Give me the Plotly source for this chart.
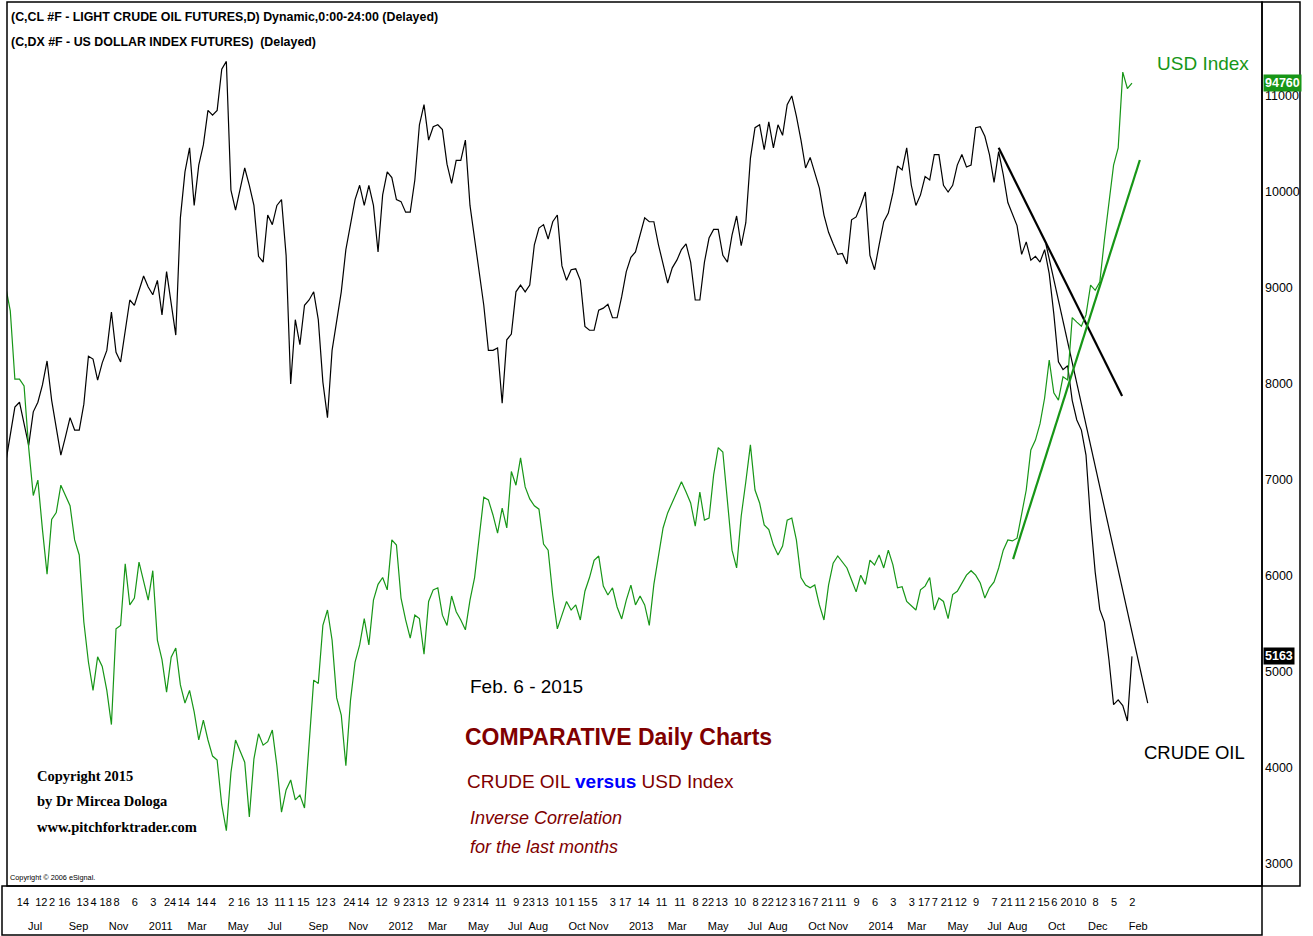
import pandas as pd
import plotly.graph_objects as go

# ---------------- data (weekly closes) ----------------
week_first = "2010-05-28"
week_last = "2015-02-06"

crude = [  # light crude oil futures, $/bbl
    71.8, 74.8, 77.6, 78.1, 75.7, 73.6, 77.1, 78.1, 79.9, 82.4,
    78.3, 75.2, 72.6, 74.5, 76.5, 75.2, 75.2, 77.9, 82.9, 82.6,
    80.4, 82.2, 83.5, 87.5, 83.3, 82.3, 85.8, 88.75, 88.2, 89.8,
    91.25, 90.1, 89.3, 90.8, 87.2, 91.7, 88.2, 85.1, 97.3, 102.1,
    104.6, 98.6, 102.8, 104.9, 108.5, 108.0, 108.5, 112.8, 113.6, 100.2,
    98.1, 100.2, 102.5, 100.7, 98.6, 93.3, 92.7, 97.6, 96.6, 98.6,
    99.2, 93.4, 80.0, 86.7, 84.1, 88.2, 88.75, 89.6, 86.7, 80.2,
    76.5, 83.5, 86.5, 89.6, 94.0, 96.5, 99.2, 100.7, 98.6, 100.7,
    98.6, 93.75, 99.7, 102.1, 101.5, 99.2, 99.0, 97.9, 97.9, 101.25,
    107.0, 109.1, 105.4, 106.8, 107.0, 106.5, 102.9, 100.9, 103.3, 103.3,
    105.4, 98.6, 95.0, 91.9, 88.2, 83.5, 83.5, 83.75, 78.0, 84.6,
    85.2, 89.6, 90.3, 89.6, 90.3, 94.5, 96.25, 96.6, 95.1, 96.9,
    97.6, 92.3, 90.8, 91.9, 92.0, 90.8, 86.0, 85.6, 85.6, 87.7,
    87.9, 88.3, 86.9, 86.9, 89.1, 91.7, 93.2, 93.75, 95.6, 97.3,
    96.9, 96.9, 94.5, 92.5, 90.5, 92.1, 92.9, 94.0, 94.6, 92.7,
    88.75, 88.75, 92.7, 95.2, 96.1, 96.1, 93.4, 92.7, 95.5, 97.5,
    94.4, 96.8, 103.5, 106.7, 107.0, 104.4, 107.3, 104.6, 107.0, 105.9,
    109.1, 110.0, 107.9, 105.4, 102.5, 103.6, 102.1, 100.4, 97.6, 95.8,
    94.6, 93.5, 93.6, 92.5, 97.1, 97.4, 98.6, 100.0, 93.4, 91.9,
    94.5, 96.9, 97.8, 99.9, 102.7, 102.3, 104.6, 100.7, 98.6, 99.7,
    101.6, 101.25, 103.9, 103.9, 100.7, 100.0, 100.7, 102.8, 103.9, 102.6,
    102.8, 106.7, 106.8, 105.8, 103.9, 101.0, 104.2, 101.8, 98.9, 97.6,
    96.5, 93.5, 94.8, 92.9, 93.3, 92.7, 94.0, 91.5, 87.3, 82.3,
    81.5, 81.9, 78.3, 76.25, 75.2, 72.6, 65.8, 60.4, 56.5, 55.2,
    51.25, 46.6, 47.1, 46.5, 44.9, 51.63,
]

usd = [  # US dollar index futures
    88.8, 88.1, 86.1, 86.1, 85.9, 84.1, 82.7, 83.15, 81.7, 80.4,
    82.0, 82.2, 83.0, 82.7, 82.4, 81.4, 80.96, 79.0, 77.83, 77.0,
    77.98, 77.7, 77.0, 76.0, 78.8, 78.9, 80.7, 79.5, 79.7, 80.75,
    80.23, 79.64, 80.5, 78.47, 77.9, 76.95, 77.97, 78.24, 77.16, 76.63,
    77.0, 76.37, 75.55, 76.13, 75.55, 75.08, 74.96, 73.65, 72.9, 74.6,
    75.55, 75.2, 74.9, 73.3, 75.0, 75.73, 75.4, 75.5, 75.84, 74.79,
    73.44, 74.09, 74.38, 73.8, 73.94, 73.56, 75.4, 77.3, 77.2, 78.9,
    79.35, 78.47, 76.78, 76.28, 74.8, 76.7, 77.83, 78.33, 79.1, 78.33,
    79.64, 80.1, 80.3, 79.94, 81.4, 81.25, 79.7, 79.06, 78.53, 79.2,
    79.1, 78.06, 79.6, 79.94, 80.0, 79.2, 78.9, 79.76, 79.3, 79.06,
    78.77, 79.64, 80.3, 81.4, 82.65, 82.57, 82.13, 81.6, 82.33, 81.75,
    83.4, 83.0, 83.8, 82.95, 82.6, 82.4, 82.3, 81.28, 81.1, 79.79,
    78.8, 79.2, 79.6, 79.35, 79.5, 79.06, 79.9, 80.3, 80.8, 80.93,
    80.05, 79.79, 80.0, 79.44, 79.09, 79.64, 80.08, 79.5, 79.76, 79.5,
    78.9, 80.1, 80.96, 81.75, 82.19, 82.5, 82.8, 83.1, 82.8, 82.48,
    81.8, 82.8, 81.98, 82.04, 83.3, 84.1, 83.97, 82.5, 81.1, 80.58,
    82.1, 83.1, 84.18, 82.86, 82.48, 81.84, 81.7, 81.25, 80.96, 81.22,
    81.98, 82.04, 81.4, 80.3, 80.08, 80.0, 80.08, 79.5, 79.06, 80.08,
    80.72, 80.93, 80.75, 80.58, 80.23, 79.88, 80.37, 80.1, 80.81, 80.67,
    80.96, 80.58, 81.1, 80.67, 80.0, 80.03, 79.6, 79.47, 79.35, 79.94,
    80.05, 80.3, 79.35, 79.7, 79.6, 79.1, 79.8, 79.9, 80.14, 80.37,
    80.5, 80.37, 80.14, 79.7, 80.0, 80.17, 80.58, 81.1, 81.4, 81.37,
    81.45, 82.13, 82.86, 84.03, 84.32, 84.8, 85.55, 86.66, 85.7, 85.49,
    86.17, 86.08, 87.9, 87.77, 87.65, 87.98, 88.85, 88.7, 88.94, 90.17,
    91.2, 92.36, 92.86, 95.08, 94.6, 94.76,
]

# hand-drawn trend lines (date, value)
crude_trend1_dates = ["2014-07-18", "2015-01-22"]
crude_trend1_vals = [104.6, 78.75]
crude_trend2_dates = ["2014-09-28", "2015-03-02"]
crude_trend2_vals = [94.58, 46.77]
usd_trend_dates = ["2014-08-09", "2015-02-18"]
usd_trend_vals = [80.84, 92.51]

crude_ticks = [3000, 4000, 5000, 6000, 7000, 8000, 9000, 10000, 11000]

day_tick_dates = [
    "2010-06-14", "2010-07-12", "2010-08-02", "2010-08-16", "2010-09-13", "2010-10-04",
    "2010-10-18", "2010-11-08", "2010-12-06", "2011-01-03", "2011-01-24", "2011-02-14",
    "2011-03-14", "2011-04-04", "2011-05-02", "2011-05-16", "2011-06-13", "2011-07-11",
    "2011-08-01", "2011-08-15", "2011-09-12", "2011-10-03", "2011-10-24", "2011-11-14",
    "2011-12-12", "2012-01-09", "2012-01-23", "2012-02-13", "2012-03-12", "2012-04-09",
    "2012-04-23", "2012-05-14", "2012-06-11", "2012-07-09", "2012-07-23", "2012-08-13",
    "2012-09-10", "2012-10-01", "2012-10-15", "2012-11-05", "2012-12-03", "2012-12-17",
    "2013-01-14", "2013-02-11", "2013-03-11", "2013-04-08", "2013-04-22", "2013-05-13",
    "2013-06-10", "2013-07-08", "2013-07-22", "2013-08-12", "2013-09-03", "2013-09-16",
    "2013-10-07", "2013-10-21", "2013-11-11", "2013-12-09", "2014-01-06", "2014-02-03",
    "2014-03-03", "2014-03-17", "2014-04-07", "2014-04-21", "2014-05-12", "2014-06-09",
    "2014-07-07", "2014-07-21", "2014-08-11", "2014-09-02", "2014-09-15", "2014-10-06",
    "2014-10-20", "2014-11-10", "2014-12-08", "2015-01-05", "2015-02-02",
]
month_tick_dates = [
    "2010-07-01", "2010-09-01", "2010-11-01", "2011-01-01", "2011-03-01", "2011-05-01",
    "2011-07-01", "2011-09-01", "2011-11-01", "2012-01-01", "2012-03-01", "2012-05-01",
    "2012-07-01", "2012-08-01", "2012-10-01", "2012-11-01", "2013-01-01", "2013-03-01",
    "2013-05-01", "2013-07-01", "2013-08-01", "2013-10-01", "2013-11-01", "2014-01-01",
    "2014-03-01", "2014-05-01", "2014-07-01", "2014-08-01", "2014-10-01", "2014-12-01",
    "2015-02-01",
]
x_view = ["2010-05-30", "2015-08-23"]
crude_view = [27.71, 119.79]
usd_view = [71.28, 97.13]

# ---------------- figure ----------------
dates = pd.date_range(week_first, week_last, freq="7D")
n = min(len(dates), len(crude), len(usd))
dates = dates[:n]

SANS = "Liberation Sans, Arial, sans-serif"
SERIF = "Liberation Serif, Times New Roman, serif"
GREEN = "#179617"
DARKRED = "#800000"

day_text = [str(pd.Timestamp(d).day) for d in day_tick_dates]
month_text = [str(pd.Timestamp(d).year) if pd.Timestamp(d).month == 1
              else pd.Timestamp(d).strftime("%b") for d in month_tick_dates]

fig = go.Figure()
fig.add_trace(go.Scatter(x=dates, y=[v * 100 for v in crude[:n]], mode="lines",
                         line=dict(color="#000000", width=1.2), xaxis="x", yaxis="y"))
fig.add_trace(go.Scatter(x=dates, y=usd[:n], mode="lines",
                         line=dict(color=GREEN, width=1.2), xaxis="x2", yaxis="y2"))
fig.add_trace(go.Scatter(x=crude_trend1_dates, y=[v * 100 for v in crude_trend1_vals],
                         mode="lines", line=dict(color="#000000", width=2.2),
                         xaxis="x", yaxis="y"))
fig.add_trace(go.Scatter(x=crude_trend2_dates, y=[v * 100 for v in crude_trend2_vals],
                         mode="lines", line=dict(color="#000000", width=1.2),
                         xaxis="x", yaxis="y"))
fig.add_trace(go.Scatter(x=usd_trend_dates, y=usd_trend_vals, mode="lines",
                         line=dict(color=GREEN, width=2.2), xaxis="x2", yaxis="y2"))

W, H = 1313, 936
L, R, T, B = 7, 51, 2, 50
pw, ph = W - L - R, H - T - B


def px(x):
    return (x - L) / pw


def py(y):
    return (H - B - y) / ph


axis_font = dict(family=SANS, size=11, color="#000000")

fig.update_layout(
    template="none",
    width=W, height=H,
    margin=dict(l=L, r=R, t=T, b=B, pad=0),
    paper_bgcolor="white", plot_bgcolor="white",
    showlegend=False, hovermode=False,
    xaxis=dict(type="date", range=x_view, tickmode="array", tickvals=day_tick_dates,
               ticktext=day_text, tickangle=0, ticks="", showgrid=False, zeroline=False,
               showline=False, ticklabelposition="outside right", ticklabelstandoff=8,
               tickfont=axis_font, automargin=False, anchor="y"),
    xaxis2=dict(type="date", range=x_view, overlaying="x", anchor="y", side="bottom",
                tickmode="array", tickvals=month_tick_dates, ticktext=month_text,
                tickangle=0, ticks="", showgrid=False, zeroline=False, showline=False,
                ticklabelposition="outside right", ticklabelstandoff=32,
                tickfont=axis_font, automargin=False),
    yaxis=dict(range=[v * 100 for v in crude_view], side="right", tickmode="array",
               tickvals=crude_ticks, ticktext=[str(t) for t in crude_ticks], ticks="",
               showgrid=False, zeroline=False, showline=False, ticklabelstandoff=2,
               tickfont=dict(family=SANS, size=12.5, color="#000000"),
               automargin=False, anchor="x"),
    yaxis2=dict(range=usd_view, overlaying="y", side="right", showticklabels=False,
                showgrid=False, zeroline=False, showline=False, ticks="",
                automargin=False, anchor="x2"),
)

frame = dict(color="#000000", width=1.5)
shapes = [
    dict(type="rect", xref="paper", yref="paper", x0=0, x1=1, y0=0, y1=1, line=frame),
    dict(type="rect", xref="paper", yref="paper", x0=1, x1=px(1300), y0=0, y1=1, line=frame),
    dict(type="rect", xref="paper", yref="paper", x0=px(2), x1=1, y0=py(935), y1=0, line=frame),
]
fig.update_layout(shapes=shapes)

ann = []


def text(x, y, s, size, color="#000000", family=SANS, xanchor="left"):
    ann.append(dict(xref="paper", yref="paper", x=px(x), y=py(y), text=s, showarrow=False,
                    xanchor=xanchor, yanchor="middle",
                    font=dict(family=family, size=size, color=color)))


text(9, 17, "<b>(C,CL #F - LIGHT CRUDE OIL FUTURES,D) Dynamic,0:00-24:00 (Delayed)</b>", 12.4)
text(9, 42, "<b>(C,DX #F - US DOLLAR INDEX FUTURES)  (Delayed)</b>", 12.4)
text(1203, 64, "USD Index", 19, GREEN, xanchor="center")
text(1194, 752, "CRUDE OIL", 18.5, xanchor="center")
text(468, 686, "Feb. 6 - 2015", 19)
text(463, 737, "<b>COMPARATIVE Daily Charts</b>", 23, DARKRED)
text(465, 781, "CRUDE OIL <span style='color:#0000ff'><b>versus</b></span> USD Index",
     19, DARKRED)
text(468, 818, "<i>Inverse Correlation</i>", 18, DARKRED)
text(468, 847, "<i>for the last months</i>", 18, DARKRED)
text(35, 776, "<b>Copyright 2015</b>", 14.5, family=SERIF)
text(35, 801, "<b>by Dr Mircea Dologa</b>", 14.5, family=SERIF)
text(35, 827, "<b>www.pitchforktrader.com</b>", 14.5, family=SERIF)
text(8, 877, "Copyright © 2006 eSignal.", 7.3)

# last-value tags on the price scale
ann.append(dict(xref="paper", yref="y2", x=1, y=usd[n - 1], xanchor="left", yanchor="middle",
                text=f"<b>{usd[n - 1] * 1000:.0f}</b>", showarrow=False, xshift=1,
                bgcolor=GREEN, borderpad=1,
                font=dict(family=SANS, size=12.5, color="#ffffff")))
ann.append(dict(xref="paper", yref="y", x=1, y=crude[n - 1] * 100, xanchor="left",
                yanchor="middle", text=f"<b>{crude[n - 1] * 100:.0f}</b>", showarrow=False,
                xshift=1, bgcolor="#000000", borderpad=1,
                font=dict(family=SANS, size=12.5, color="#ffffff")))
fig.update_layout(annotations=ann)

fig.write_html("out.html", config={"displayModeBar": False},
               post_script="document.body.style.margin='0';"
                           "document.body.style.overflow='hidden';")
